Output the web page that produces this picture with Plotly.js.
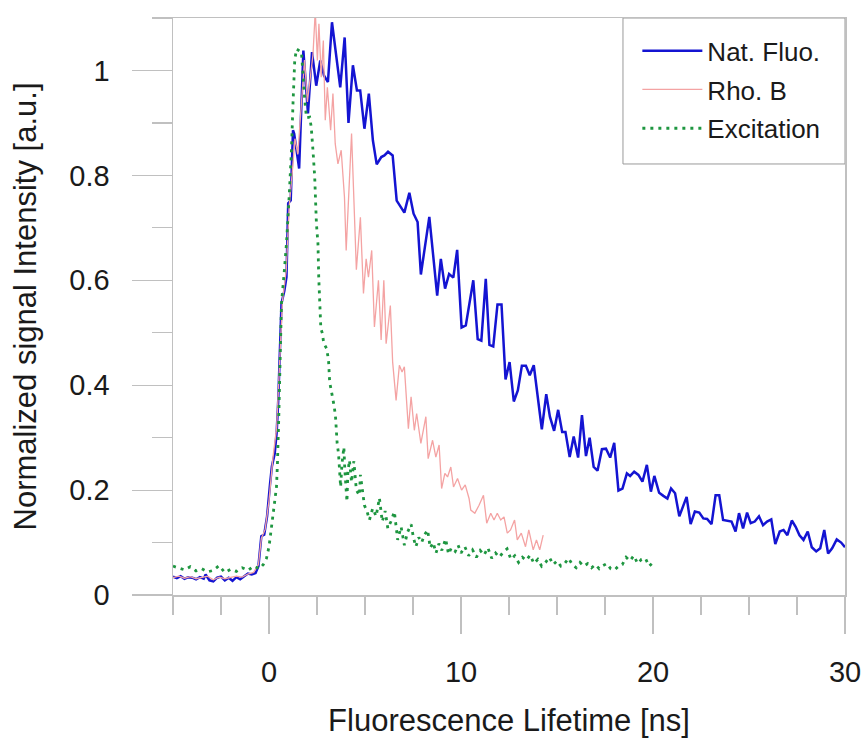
<!DOCTYPE html>
<html>
<head>
<meta charset="utf-8">
<script src="https://cdn.plot.ly/plotly-3.0.1.min.js"></script>
<style>html,body{margin:0;padding:0;background:#fff;}#chart{width:868px;height:744px;}</style>
</head>
<body>
<div id="chart"></div>
<script>
// ---- Data ----
const natT = [-5.0,-4.8,-4.6,-4.4,-4.2,-4.0,-3.8,-3.6,-3.4,-3.3,-3.1,-2.9,-2.7,-2.5,-2.3,-2.1,-1.9,-1.7,-1.5,-1.3,-1.1,-0.9,-0.7,-0.55,-0.4,-0.25,-0.1,0.05,0.15,0.3,0.4,0.48,0.56,0.65,0.8,0.91,1.0,1.13,1.25,1.31,1.57,1.79,2.03,2.24,2.46,2.67,2.87,3.07,3.28,3.71,3.94,4.14,4.37,4.58,4.75,4.97,5.2,5.41,5.61,5.85,6.01,6.2,6.44,6.65,7.05,7.31,7.53,7.74,7.91,8.35,8.76,8.95,9.17,9.38,9.6,9.8,10.03,10.25,10.64,10.87,11.06,11.29,11.48,11.68,11.9,12.11,12.32,12.53,12.75,12.96,13.17,13.38,13.58,13.79,14.21,14.44,14.63,14.85,15.06,15.27,15.44,15.66,15.87,16.1,16.3,16.51,16.7,16.91,17.11,17.34,17.55,17.77,17.98,18.2,18.41,18.64,18.81,19.02,19.24,19.45,19.68,19.89,20.07,20.32,20.54,20.75,20.94,21.15,21.37,21.75,21.96,22.18,22.41,22.62,22.82,23.05,23.26,23.45,23.65,23.88,24.09,24.3,24.48,24.69,24.9,25.09,25.3,25.52,25.73,25.94,26.16,26.37,26.6,26.8,27.0,27.23,27.43,27.63,27.84,28.06,28.27,28.5,28.71,28.92,29.12,29.33,29.57,29.8,30.0];
const natY = [0.035,0.032,0.036,0.031,0.034,0.033,0.030,0.034,0.031,0.039,0.028,0.026,0.033,0.035,0.028,0.033,0.027,0.034,0.030,0.036,0.041,0.039,0.042,0.055,0.112,0.115,0.150,0.210,0.245,0.270,0.310,0.370,0.460,0.556,0.580,0.606,0.747,0.752,0.886,0.880,0.813,1.038,0.918,1.035,0.971,1.019,0.990,0.978,1.092,0.968,1.063,0.900,1.010,0.962,0.962,0.889,0.956,0.867,0.821,0.835,0.838,0.845,0.838,0.752,0.729,0.767,0.727,0.711,0.611,0.721,0.571,0.641,0.584,0.612,0.605,0.658,0.510,0.514,0.600,0.488,0.485,0.603,0.477,0.474,0.554,0.554,0.411,0.444,0.369,0.390,0.437,0.437,0.419,0.438,0.316,0.383,0.340,0.313,0.353,0.311,0.311,0.263,0.302,0.262,0.343,0.265,0.300,0.244,0.237,0.278,0.279,0.262,0.290,0.199,0.203,0.232,0.227,0.235,0.229,0.216,0.248,0.197,0.227,0.195,0.189,0.184,0.203,0.194,0.150,0.187,0.135,0.159,0.157,0.146,0.145,0.135,0.190,0.190,0.143,0.142,0.140,0.121,0.156,0.127,0.157,0.137,0.140,0.150,0.133,0.140,0.144,0.097,0.121,0.124,0.114,0.142,0.130,0.114,0.105,0.121,0.091,0.083,0.089,0.124,0.079,0.089,0.106,0.100,0.091];

const rhoT = [-5.0,-4.7,-4.4,-4.1,-3.8,-3.5,-3.2,-2.9,-2.6,-2.3,-2.0,-1.7,-1.4,-1.1,-0.8,-0.55,-0.4,-0.2,0.0,0.2,0.4,0.55,0.7,0.9,1.05,1.2,1.35,1.5,1.7,1.85,2.0,2.15,2.29,2.41,2.52,2.6,2.72,2.83,2.93,3.04,3.21,3.33,3.45,3.59,3.76,3.93,4.02,4.3,4.45,4.55,4.76,4.92,5.06,5.18,5.35,5.49,5.7,5.84,5.98,6.1,6.32,6.44,6.62,6.79,6.93,7.05,7.26,7.4,7.57,7.69,7.91,8.17,8.29,8.52,8.69,8.86,8.99,9.16,9.3,9.47,9.61,9.82,10.03,10.22,10.42,10.51,10.72,10.94,11.17,11.34,11.55,11.72,11.89,12.07,12.24,12.41,12.58,12.79,12.93,13.14,13.36,13.53,13.76,13.93,14.1,14.28];
const rhoY = [0.033,0.036,0.032,0.035,0.031,0.034,0.036,0.029,0.034,0.031,0.033,0.036,0.034,0.040,0.043,0.058,0.108,0.125,0.180,0.260,0.320,0.450,0.560,0.620,0.740,0.800,0.870,0.840,0.950,1.020,0.940,0.990,1.030,1.114,1.019,1.089,0.987,1.057,0.905,0.968,0.886,0.956,0.860,0.822,0.848,0.759,0.657,0.880,0.740,0.620,0.720,0.575,0.641,0.606,0.657,0.511,0.600,0.486,0.600,0.479,0.552,0.444,0.371,0.438,0.425,0.435,0.317,0.378,0.314,0.346,0.289,0.340,0.260,0.295,0.263,0.286,0.203,0.232,0.225,0.244,0.206,0.222,0.200,0.210,0.184,0.162,0.156,0.171,0.190,0.137,0.156,0.143,0.156,0.143,0.149,0.118,0.124,0.143,0.105,0.118,0.092,0.124,0.086,0.105,0.086,0.114];

const excT = [-5.0,-4.7,-4.4,-4.1,-3.8,-3.5,-3.2,-2.9,-2.6,-2.3,-2.0,-1.7,-1.4,-1.1,-0.8,-0.5,-0.3,-0.13,0.0,0.09,0.22,0.3,0.39,0.44,0.48,0.51,0.58,0.65,0.78,0.91,1.05,1.17,1.25,1.34,1.43,1.69,1.85,1.95,2.12,2.2,2.29,2.38,2.47,2.55,2.59,2.64,2.7,2.78,2.85,3.0,3.1,3.16,3.28,3.4,3.47,3.5,3.55,3.62,3.73,3.8,3.9,3.95,4.02,4.06,4.11,4.19,4.3,4.42,4.55,4.71,4.76,4.89,4.97,5.1,5.23,5.4,5.58,5.75,5.9,6.05,6.19,6.35,6.53,6.7,6.88,7.05,7.22,7.4,7.52,7.65,7.8,7.95,8.1,8.26,8.4,8.55,8.7,8.85,9.0,9.2,9.35,9.5,9.7,9.85,10.0,10.2,10.4,10.6,10.8,11.0,11.2,11.4,11.6,11.8,12.0,12.2,12.4,12.6,12.8,13.0,13.2,13.4,13.6,13.8,14.0,14.2,14.4,14.6,14.8,15.0,15.2,15.4,15.6,15.8,16.0,16.2,16.4,16.6,16.8,17.0,17.2,17.4,17.6,17.8,18.0,18.2,18.4,18.6,18.8,19.0,19.2,19.4,19.6,19.8,20.0];
const excY = [0.055,0.052,0.048,0.054,0.046,0.050,0.044,0.047,0.056,0.043,0.049,0.045,0.052,0.047,0.055,0.050,0.058,0.070,0.092,0.118,0.156,0.181,0.206,0.251,0.295,0.340,0.450,0.556,0.610,0.670,0.760,0.848,0.937,1.019,1.041,1.035,0.950,0.910,0.911,0.892,0.848,0.797,0.708,0.670,0.606,0.556,0.508,0.499,0.480,0.470,0.448,0.406,0.383,0.359,0.337,0.314,0.289,0.270,0.206,0.250,0.282,0.238,0.197,0.178,0.235,0.257,0.215,0.255,0.200,0.190,0.229,0.190,0.171,0.160,0.143,0.165,0.150,0.185,0.140,0.160,0.127,0.140,0.159,0.105,0.130,0.095,0.120,0.135,0.110,0.092,0.110,0.100,0.115,0.124,0.090,0.100,0.080,0.098,0.085,0.107,0.078,0.090,0.083,0.095,0.080,0.092,0.075,0.086,0.072,0.085,0.076,0.090,0.070,0.080,0.072,0.082,0.088,0.068,0.075,0.062,0.072,0.066,0.076,0.060,0.068,0.055,0.062,0.072,0.058,0.065,0.055,0.060,0.070,0.058,0.052,0.062,0.055,0.060,0.052,0.058,0.050,0.056,0.060,0.050,0.048,0.055,0.058,0.072,0.065,0.075,0.060,0.068,0.070,0.055,0.062];

const seriesNames = ['Nat. Fluo.', 'Rho. B', 'Excitation'];
const xTitle = 'Fluorescence Lifetime [ns]';
const yTitle = 'Normalized signal Intensity [a.u.]';

const FONT = 'Liberation Sans, Arial, Helvetica, sans-serif';
const AX = '#c0c0c0';

const traces = [
  {x: natT, y: natY, name: seriesNames[0], legendgroup: 'g1', mode: 'lines', line: {color: '#1414d2', width: 2.5}},
  {x: rhoT, y: rhoY, name: seriesNames[1], legendgroup: 'g2', mode: 'lines', line: {color: '#f4a3a3', width: 1.3}},
  {x: excT, y: excY, name: seriesNames[2], legendgroup: 'g3', mode: 'lines', line: {color: '#1e9640', width: 2.8, dash: '3px,5px'}}
];

const layout = {
  width: 868, height: 744,
  paper_bgcolor: '#ffffff', plot_bgcolor: '#ffffff',
  margin: {l: 173, r: 23, t: 18, b: 149},
  font: {family: FONT, color: '#1a1a1a'},
  showlegend: true,
  legend: {
    x: 0.691, xanchor: 'left', y: 0.984, yanchor: 'top',
    bgcolor: 'rgba(0,0,0,0)', borderwidth: 0,
    font: {family: FONT, size: 26, color: '#1a1a1a'},
    itemwidth: 60, tracegroupgap: 2
  },
  shapes: [{
    type: 'rect', xref: 'paper', yref: 'paper', layer: 'below',
    x0: 0.6696, x1: 1, y0: 0.747, y1: 1,
    line: {color: '#9a9a9a', width: 1}, fillcolor: '#ffffff'
  }],
  xaxis: {
    range: [-5, 30], tick0: 0, dtick: 10,
    ticks: 'outside', ticklen: 37, tickwidth: 1.2, tickcolor: AX,
    minor: {dtick: 2.5, ticks: 'outside', ticklen: 18, tickwidth: 1.2, tickcolor: AX},
    showline: true, linecolor: AX, linewidth: 1.5, mirror: true,
    showgrid: false, zeroline: false,
    tickfont: {family: FONT, size: 29, color: '#1a1a1a'},
    ticklabelstandoff: 14,
    title: {text: xTitle, font: {family: FONT, size: 31, color: '#1a1a1a'}, standoff: 22}
  },
  yaxis: {
    range: [0, 1.1001], tick0: 0, dtick: 0.2,
    ticks: 'outside', ticklen: 40, tickwidth: 1.2, tickcolor: AX,
    minor: {dtick: 0.1, ticks: 'outside', ticklen: 20, tickwidth: 1.2, tickcolor: AX},
    showline: true, linecolor: AX, linewidth: 1.5, mirror: true,
    showgrid: false, zeroline: false,
    tickfont: {family: FONT, size: 29, color: '#1a1a1a'},
    ticklabelstandoff: 16,
    title: {text: yTitle, font: {family: FONT, size: 31, color: '#1a1a1a'}, standoff: 23}
  }
};

Plotly.newPlot('chart', traces, layout, {displayModeBar: false, staticPlot: true});
</script>
</body>
</html>
